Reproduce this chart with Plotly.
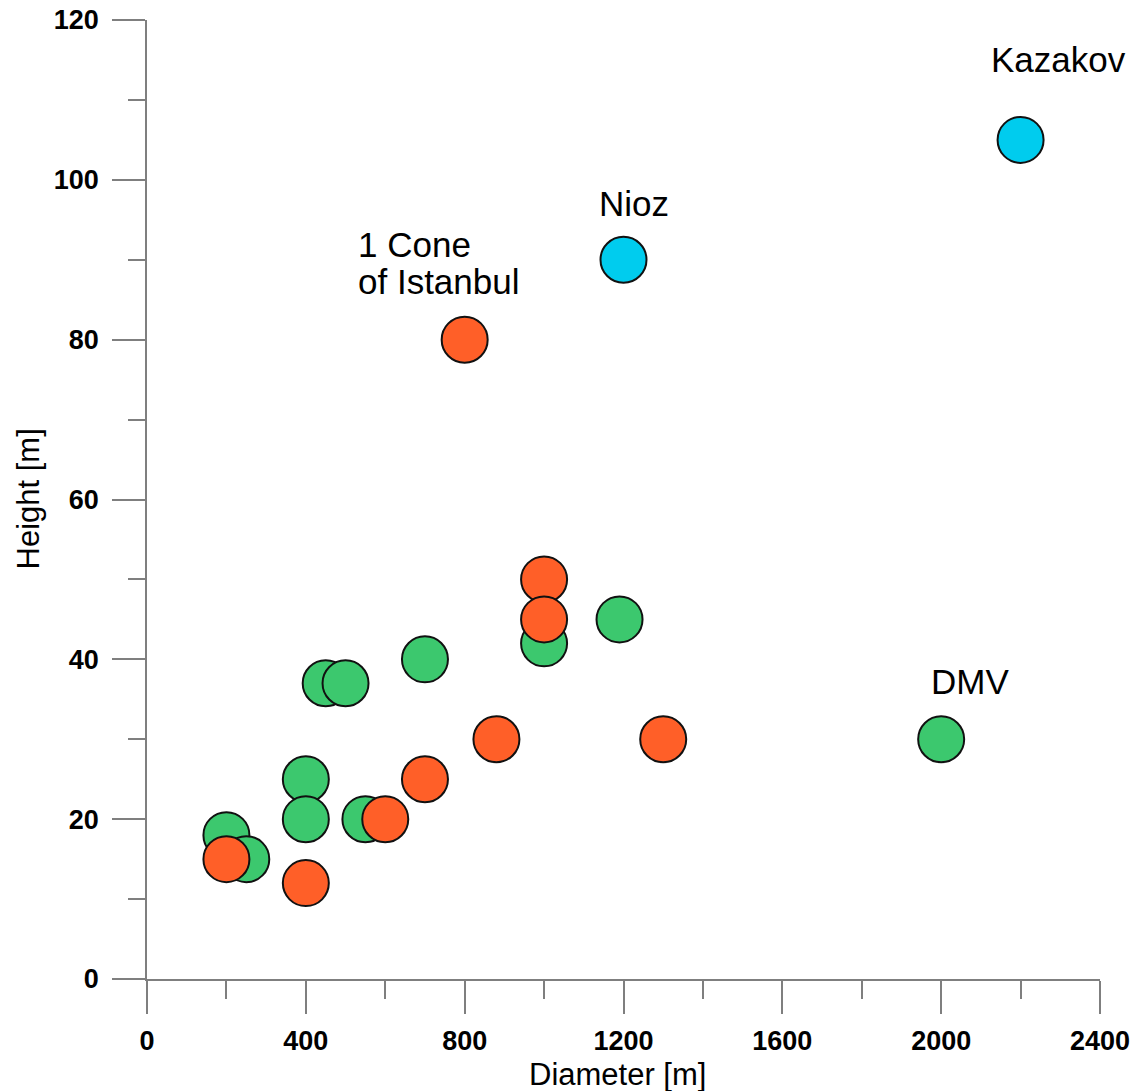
import plotly.graph_objects as go

# Cone measurements: diameter [m] vs height [m]
green_diam = [200, 250, 400, 400, 450, 500, 550, 700, 1000, 1190, 2000]
green_height = [18, 15, 25, 20, 37, 37, 20, 40, 42, 45, 30]

orange_diam = [200, 400, 600, 700, 880, 1300, 800, 1000, 1000]
orange_height = [15, 12, 20, 25, 30, 30, 80, 50, 45]

cyan_diam = [1200, 2200]
cyan_height = [90, 105]

# Named features and where their labels sit
label_text = ["Kazakov", "Nioz", "DMV"]
label_x = [2295, 1226, 2072]
label_y = [115.0, 97.1, 37.2]

# Two-line label, left aligned
istanbul_lines = ["1 Cone", "of Istanbul"]
istanbul_x = 527
istanbul_y = [91.9, 87.3]

x_ticks = [0, 400, 800, 1200, 1600, 2000, 2400]
y_ticks = [0, 20, 40, 60, 80, 100, 120]

FONT = "Arial, Liberation Sans, sans-serif"
AXIS_GREY = "#7f7f7f"

fig = go.Figure()

for xs, ys, color in [
    (green_diam, green_height, "#3cc86e"),
    (orange_diam, orange_height, "#ff5f28"),
    (cyan_diam, cyan_height, "#00ccee"),
]:
    fig.add_trace(go.Scatter(
        x=xs, y=ys, mode="markers",
        marker=dict(size=46, color=color, line=dict(color="#111111", width=2)),
        cliponaxis=False, showlegend=False, hoverinfo="skip",
    ))

for t, x, y in zip(label_text, label_x, label_y):
    fig.add_annotation(x=x, y=y, xref="x", yref="y", text=t, showarrow=False,
                       xanchor="center", yanchor="middle",
                       font=dict(family=FONT, size=35, color="black"))

for t, y in zip(istanbul_lines, istanbul_y):
    fig.add_annotation(x=istanbul_x, y=y, xref="x", yref="y", text=t,
                       showarrow=False, xanchor="left", yanchor="middle",
                       font=dict(family=FONT, size=35, color="black"))

# Axis titles
fig.add_annotation(x=0.5, y=0, xref="paper", yref="paper", text="Diameter [m]",
                   showarrow=False, xanchor="center", yanchor="middle",
                   xshift=-6, yshift=-95, borderpad=0,
                   font=dict(family=FONT, size=31, color="black"))
fig.add_annotation(x=0, y=0.5, xref="paper", yref="paper", text="Height [m]",
                   showarrow=False, xanchor="center", yanchor="middle",
                   xshift=-119, textangle=-90,
                   font=dict(family=FONT, size=31, color="black"))

axis_common = dict(
    showgrid=False, zeroline=False, showline=True, linecolor=AXIS_GREY,
    linewidth=1.5, ticks="outside", ticklen=33, tickwidth=1.5,
    tickcolor=AXIS_GREY, automargin=False,
    tickfont=dict(family=FONT, size=27, color="black", weight="bold"),
)

fig.update_xaxes(range=[0, 2400], tickvals=x_ticks, ticklabelstandoff=4,
                 minor=dict(dtick=200, tick0=0, ticklen=18, tickwidth=1.5,
                            tickcolor=AXIS_GREY, ticks="outside"),
                 **axis_common)
fig.update_yaxes(range=[0, 120], tickvals=y_ticks, ticklabelstandoff=8,
                 minor=dict(dtick=10, tick0=0, ticklen=17, tickwidth=1.5,
                            tickcolor=AXIS_GREY, ticks="outside"),
                 **axis_common)

fig.update_layout(
    width=1137, height=1091,
    margin=dict(l=147, r=37, t=20, b=112),
    plot_bgcolor="white", paper_bgcolor="white",
)

fig.write_html("out.html")
